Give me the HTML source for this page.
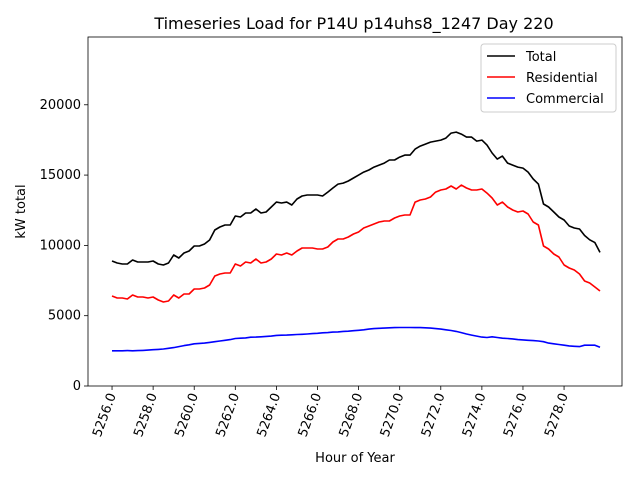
<!DOCTYPE html>
<html><head><meta charset="utf-8"><style>
body{margin:0;background:#fff;font-family:"Liberation Sans","DejaVu Sans",sans-serif}
svg text{font-family:"DejaVu Sans","Liberation Sans",sans-serif}
</style></head><body>
<svg id="chart" width="640" height="480" viewBox="0 0 640 480"></svg>
<script>
const totalKw=[8888,8745,8674,8674,8959,8816,8816,8816,8888,8674,8603,8745,9314,9101,9456,9599,9954,9954,10096,10381,11092,11305,11447,11447,12087,12016,12300,12300,12585,12300,12371,12727,13082,13011,13082,12869,13296,13509,13580,13580,13580,13509,13793,14078,14362,14433,14576,14789,15002,15215,15358,15571,15713,15855,16069,16069,16282,16424,16424,16851,17064,17206,17348,17420,17491,17633,17988,18059,17917,17704,17704,17420,17491,17135,16567,16140,16353,15855,15713,15571,15500,15215,14718,14362,12940,12727,12371,12016,11803,11376,11234,11163,10700,10400,10200,9500];
const residentialKw=[6399,6257,6257,6186,6470,6328,6328,6257,6328,6115,5972,6044,6470,6257,6541,6541,6897,6897,6968,7181,7821,7963,8034,8034,8674,8532,8816,8745,9030,8745,8816,9030,9385,9314,9456,9314,9599,9812,9812,9812,9741,9741,9883,10238,10452,10452,10594,10807,10949,11234,11376,11518,11660,11732,11732,11945,12087,12158,12158,13082,13225,13296,13438,13793,13936,14007,14220,14007,14291,14078,13936,13936,14007,13722,13367,12869,13082,12727,12514,12371,12443,12229,11660,11447,9954,9741,9385,9172,8603,8390,8248,7963,7466,7323,7039,6755];
const commercialKw=[2500,2500,2500,2520,2500,2520,2530,2550,2580,2600,2630,2680,2730,2800,2870,2930,3000,3030,3050,3100,3150,3200,3250,3300,3380,3400,3420,3470,3480,3500,3530,3550,3600,3610,3620,3640,3660,3680,3700,3730,3750,3780,3800,3830,3850,3880,3900,3930,3960,4000,4050,4080,4100,4120,4140,4150,4160,4160,4160,4150,4150,4140,4120,4080,4050,4000,3950,3880,3800,3700,3620,3550,3480,3450,3500,3450,3400,3380,3350,3300,3280,3250,3230,3200,3150,3050,3000,2950,2900,2850,2820,2800,2900,2900,2900,2750];
const startHour=5256, stepHour=0.25;
const yTicks=[0,5000,10000,15000,20000];
const xTicks=[5256,5258,5260,5262,5264,5266,5268,5270,5272,5274,5276,5278];
const seriesNames=["Total","Residential","Commercial"];
const seriesColors=["#000000","#ff0000","#0000ff"];

const L=88,R=622,T=37,B=386;
const xMin=5254.83,xMax=5280.82,yMin=0,yMax=24820;
const xs=h=>L+(h-xMin)/(xMax-xMin)*(R-L);
const ys=v=>B-(v-yMin)/(yMax-yMin)*(B-T);
const svg=document.getElementById('chart');
const NS='http://www.w3.org/2000/svg';
function mk(tag,attrs,parent){const e=document.createElementNS(NS,tag);for(const k in attrs)e.setAttribute(k,attrs[k]);(parent||svg).appendChild(e);return e;}

let t=mk('text',{x:354,y:29,'text-anchor':'middle','font-size':16});
t.textContent='Timeseries Load for P14U p14uhs8_1247  Day 220';



yTicks.forEach(v=>{
  const y=ys(v);
  let l=mk('line',{x1:L-4,x2:L,y1:y,y2:y,stroke:'#000','stroke-width':0.8});
  
  
  let tx=mk('text',{x:L-7,y:y+4,'text-anchor':'end','font-size':13});
  tx.textContent=String(v);
  
  
});
xTicks.forEach(h=>{
  const x=xs(h);
  let l=mk('line',{x1:x,x2:x,y1:B,y2:B+4,stroke:'#000','stroke-width':0.8});
  
  
  let tx=mk('text',{x:0,y:0,'text-anchor':'end','font-size':13,transform:`translate(${x+4},${B+9}) rotate(-70)`});
  tx.textContent=h.toFixed(1);
  
  
});

[totalKw,residentialKw,commercialKw].forEach((arr,si)=>{
  const pts=arr.map((v,i)=>xs(startHour+i*stepHour).toFixed(1)+','+ys(v).toFixed(1)).join(' ');
  let p=mk('polyline',{points:pts,fill:'none',stroke:seriesColors[si],'stroke-width':1.6,'stroke-linejoin':'round'});
  
  
});

let fr=mk('rect',{x:L,y:T,width:R-L,height:B-T,fill:'none',stroke:'#000','stroke-width':0.8});



let yl=mk('text',{x:0,y:0,'text-anchor':'middle','font-size':13,transform:`translate(25,${(T+B)/2}) rotate(-90)`});
yl.textContent='kW total';


let xl=mk('text',{x:(L+R)/2,y:462,'text-anchor':'middle','font-size':13});
xl.textContent='Hour of Year';



const lg=mk('g',{});


mk('rect',{x:481,y:44,width:135,height:68,fill:'#fff',stroke:'#ccc',rx:3},lg);
seriesNames.forEach((n,i)=>{
  const y=56+i*21;
  const g=mk('g',{},lg);
  
  
  mk('line',{x1:487,x2:515,y1:y,y2:y,stroke:seriesColors[i],'stroke-width':1.6},g);
  const tx=mk('text',{x:526,y:y+5,'font-size':13},g);
  tx.textContent=n;
});
</script>
</body></html>
